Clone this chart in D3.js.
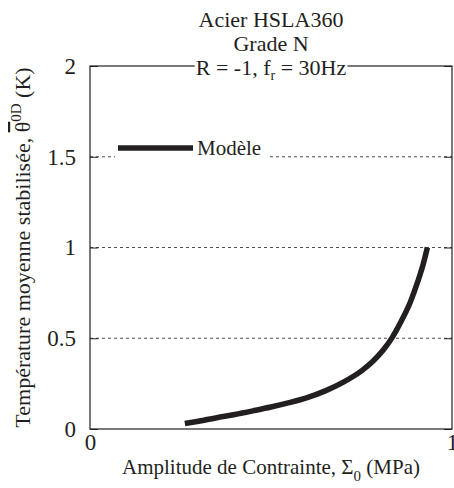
<!DOCTYPE html>
<html><head><meta charset="utf-8">
<script src="https://cdn.jsdelivr.net/npm/d3@7"></script>
<style>body{margin:0;background:#fff}svg{display:block}</style>
</head><body>
<script>
const sigma = [0.262,0.30,0.35,0.40,0.45,0.50,0.55,0.60,0.65,0.70,0.75,0.78,0.81,0.835,0.86,0.885,0.905,0.92,0.932];
const theta = [0.030,0.043,0.062,0.080,0.100,0.121,0.145,0.173,0.210,0.258,0.320,0.370,0.435,0.505,0.595,0.700,0.810,0.905,1.000];
const yTicks = [0,0.5,1,1.5,2];
const xTicks = [0,1];
const titleLines = ["Acier HSLA360","Grade N"];
const seriesName = "Modèle";

const FONT='"Liberation Serif"';
const W=454,H=488;
const m={l:90,r:452,t:66,b:429};
const svg=d3.select("body").append("svg").attr("width",W).attr("height",H);
const x=d3.scaleLinear().domain([0,1]).range([m.l,m.r]);
const y=d3.scaleLinear().domain([0,2]).range([m.b,m.t]);
const ink="#231f20";
const T=(sel,size)=>sel.style("font-family",FONT).style("font-size",size+"px").style("fill",ink);

svg.append("g").selectAll("line").data(yTicks.filter(d=>d>0&&d<2)).join("line")
  .attr("x1",m.l).attr("x2",m.r).attr("y1",d=>y(d)).attr("y2",d=>y(d))
  .attr("stroke",ink).attr("stroke-width",0.8).attr("stroke-dasharray","3,3");

svg.append("rect").attr("x",m.l).attr("y",m.t).attr("width",m.r-m.l).attr("height",m.b-m.t)
  .attr("fill","none").attr("stroke",ink).attr("stroke-width",1.2);

const ya=d3.axisLeft(y).tickValues(yTicks).tickSize(-8).tickPadding(14).tickFormat(d3.format("~g"));
const gy=svg.append("g").attr("transform",`translate(${m.l},0)`).call(ya);
gy.select(".domain").remove();
gy.selectAll("line").attr("stroke",ink);
T(gy.selectAll("text"),23);
const yr=d3.axisRight(y).tickValues(yTicks).tickSize(-8).tickFormat("");
const gyr=svg.append("g").attr("transform",`translate(${m.r},0)`).call(yr);
gyr.select(".domain").remove(); gyr.selectAll("line").attr("stroke",ink);

const xa=d3.axisBottom(x).tickValues(xTicks).tickSize(0).tickPadding(5).tickFormat(d3.format("~g"));
const gx=svg.append("g").attr("transform",`translate(0,${m.b})`).call(xa);
gx.select(".domain").remove();
T(gx.selectAll("text"),23);

svg.append("path").datum(sigma.map((s,i)=>[s,theta[i]]))
  .attr("d",d3.line().x(d=>x(d[0])).y(d=>y(d[1])).curve(d3.curveMonotoneX))
  .attr("fill","none").attr("stroke",ink).attr("stroke-width",5.5).attr("stroke-linecap","butt");

svg.append("rect").attr("x",115).attr("y",140).attr("width",152).attr("height",22).attr("fill","#fff");
svg.append("line").attr("x1",118).attr("x2",193).attr("y1",148).attr("y2",148).attr("stroke",ink).attr("stroke-width",5.5);
T(svg.append("text").attr("x",197).attr("y",155),21).text(seriesName);

const cx=(m.l+m.r)/2;
titleLines.forEach((t,i)=>T(svg.append("text").attr("x",cx).attr("y",27+i*24).attr("text-anchor","middle"),22).text(t));
const bb=svg.append("rect").attr("fill","#fff");
const t3=T(svg.append("text").attr("x",cx).attr("y",75).attr("text-anchor","middle"),22);
t3.append("tspan").text("R = -1, f");
t3.append("tspan").attr("dy",5).style("font-size","14px").text("r");
t3.append("tspan").attr("dy",-5).text(" = 30Hz");
const b=t3.node().getBBox();
bb.attr("x",b.x-1).attr("y",b.y+3).attr("width",b.width+2).attr("height",b.height-6);

const xl=T(svg.append("text").attr("x",cx).attr("y",474).attr("text-anchor","middle"),21);
xl.append("tspan").text("Amplitude de Contrainte, Σ");
xl.append("tspan").attr("dy",7).style("font-size","15px").text("0");
xl.append("tspan").attr("dy",-7).text(" (MPa)");

const yl=T(svg.append("text").attr("transform",`translate(30,${(m.t+m.b)/2}) rotate(-90)`).attr("text-anchor","middle"),22);
yl.append("tspan").text("Température moyenne stabilisée, ");
yl.append("tspan").style("text-decoration","overline").text("θ");
yl.append("tspan").attr("dy",-9).style("font-size","15px").text("0D");
yl.append("tspan").attr("dy",9).text(" (K)");
</script>
</body></html>
